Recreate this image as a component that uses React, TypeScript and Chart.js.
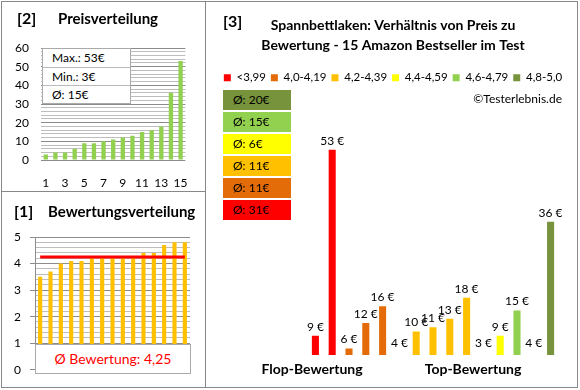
import React, { useEffect, useRef } from 'react';
import { Chart, registerables } from 'chart.js';

Chart.register(...registerables);

const FONT = 'Lato, "DejaVu Sans", sans-serif';

// ---- Panel [2]: Preisverteilung ----
const productNumbers = ['1', '2', '3', '4', '5', '6', '7', '8', '9', '10', '11', '12', '13', '14', '15'];
const sortedPrices = [3, 4, 4, 6, 9, 9, 10, 11, 12, 13, 15, 16, 18, 36, 53];
const priceStats = ['Max.: 53€', 'Min.: 3€', 'Ø: 15€'];

// ---- Panel [1]: Bewertungsverteilung ----
const sortedRatings = [3.5, 3.7, 4.0, 4.1, 4.1, 4.2, 4.2, 4.2, 4.2, 4.2, 4.4, 4.4, 4.7, 4.8, 4.8];
const avgRating = 4.25;
const avgRatingText = 'Ø Bewertung: 4,25';

// ---- Panel [3]: Preis vs. Bewertung ----
const titleLines = ['Spannbettlaken: Verhältnis von Preis zu', 'Bewertung - 15 Amazon Bestseller im Test'];
const classLabels = ['<3,99', '4,0-4,19', '4,2-4,39', '4,4-4,59', '4,6-4,79', '4,8-5,0'];
const classColors = ['#FF0000', '#E36C09', '#FFC000', '#FFFF00', '#92D050', '#77933C'];
const classAvgTexts = ['Ø: 31€', 'Ø: 11€', 'Ø: 11€', 'Ø: 6€', 'Ø: 15€', 'Ø: 20€'];
const itemPrices = [9, 53, 6, 12, 16, 4, 10, 11, 13, 18, 3, 9, 15, 4, 36];
const itemClass = [0, 0, 1, 1, 1, 2, 2, 2, 2, 2, 3, 3, 4, 5, 5];
const priceAxisMin = 4.45;
const priceAxisMax = 66.3;

const MAJOR = '#8c8c8c';
const MINOR = '#bdbdbd';
const isInt = (v: number) => Math.abs(v - Math.round(v)) < 1e-6;

const priceLabelPlugin = {
  id: 'priceLabels',
  afterDatasetsDraw(chart: any) {
    const { ctx } = chart;
    const x = chart.scales.x;
    const y = chart.scales.y;
    ctx.save();
    ctx.font = `12px ${FONT}`;
    ctx.fillStyle = '#000';
    ctx.textAlign = 'center';
    ctx.textBaseline = 'middle';
    itemPrices.forEach((p, i) => {
      const below = p < y.min;
      const py = y.getPixelForValue(below ? y.min : p);
      ctx.fillText(`${p} €`, x.getPixelForValue(i), py - (below ? 12 : 9));
    });
    ctx.restore();
  },
};

type TxtProps = { x: number; y: number; text: string; size: number; bold?: boolean; color?: string; align?: 'left' | 'center' | 'right' };
function Txt({ x, y, text, size, bold, color, align = 'left' }: TxtProps) {
  const tx = align === 'center' ? '-50%' : align === 'right' ? '-100%' : '0';
  return (
    <div
      style={{
        position: 'absolute', left: x, top: y, transform: `translate(${tx}, -50%)`,
        whiteSpace: 'nowrap', fontFamily: FONT, fontSize: size, fontWeight: bold ? 700 : 400,
        color: color || '#000', lineHeight: 1,
      }}
    >
      {text}
    </div>
  );
}

export default function App() {
  const c1 = useRef<HTMLCanvasElement>(null);
  const c2 = useRef<HTMLCanvasElement>(null);
  const c3 = useRef<HTMLCanvasElement>(null);

  useEffect(() => {
    const tickFont = { family: FONT, size: 12 };
    const ch1 = new Chart(c1.current!, {
      type: 'bar',
      data: {
        labels: productNumbers,
        datasets: [{ data: sortedPrices, backgroundColor: '#92D050', borderWidth: 0, barPercentage: 0.45, categoryPercentage: 1 }],
      },
      options: {
        animation: false, responsive: false, maintainAspectRatio: false,
        layout: { padding: { top: 46, right: 14, bottom: 0, left: 0 } },
        plugins: { legend: { display: false }, tooltip: { enabled: false } },
        scales: {
          x: {
            grid: { display: false, drawTicks: false }, border: { display: false },
            ticks: {
              padding: 16, maxRotation: 0, autoSkip: false, font: tickFont, color: '#000',
              callback: (_v: any, i: number) => (i % 2 === 0 ? productNumbers[i] : ''),
            },
            afterFit: (s: any) => { s.height = 30; },
          },
          y: {
            min: 0, max: 60,
            ticks: { stepSize: 2, autoSkip: false, padding: 12, font: tickFont, color: '#000', callback: (v: any) => (v % 10 === 0 ? String(v) : '') },
            grid: { drawTicks: false, color: (ctx: any) => (ctx.tick && ctx.tick.value % 10 === 0 ? MAJOR : MINOR) },
            border: { display: false },
            afterFit: (s: any) => { s.width = 39; },
          },
        },
      } as any,
    });

    const ch2 = new Chart(c2.current!, {
      type: 'bar',
      data: {
        labels: productNumbers,
        datasets: [
          { type: 'line', data: sortedRatings.map(() => avgRating), borderColor: '#FF0000', borderWidth: 3, pointRadius: 0, order: 0 } as any,
          { type: 'bar', data: sortedRatings, backgroundColor: '#FFC000', borderWidth: 0, barPercentage: 0.4, categoryPercentage: 1, order: 1 },
        ],
      },
      options: {
        animation: false, responsive: false, maintainAspectRatio: false,
        layout: { padding: { top: 44, right: 14, bottom: 13, left: 0 } },
        plugins: { legend: { display: false }, tooltip: { enabled: false } },
        scales: {
          x: { display: false },
          y: {
            min: 0, max: 5,
            ticks: { stepSize: 0.2, autoSkip: false, padding: 9, font: tickFont, color: '#000', callback: (v: any) => (isInt(v) ? String(Math.round(v)) : '') },
            grid: {
              tickLength: 5,
              color: (ctx: any) => (ctx.tick && isInt(ctx.tick.value) ? MAJOR : MINOR),
              tickColor: (ctx: any) => (ctx.tick && isInt(ctx.tick.value) ? MAJOR : 'rgba(0,0,0,0)'),
            },
            border: { display: true, color: MAJOR },
            afterFit: (s: any) => { s.width = 33; },
          },
        },
      } as any,
    });

    const ch3 = new Chart(c3.current!, {
      type: 'bar',
      data: {
        labels: productNumbers,
        datasets: classLabels.map((lab, g) => ({
          label: lab,
          data: itemPrices.map((p, i) => (itemClass[i] === g ? p : null)),
          backgroundColor: classColors[g],
          borderWidth: 0,
          barPercentage: 0.42,
          categoryPercentage: 1,
        })),
      },
      options: {
        animation: false, responsive: false, maintainAspectRatio: false,
        layout: { padding: { top: 0, right: 0, bottom: 31, left: 0 } },
        plugins: {
          tooltip: { enabled: false },
          title: {
            display: true, text: titleLines, color: '#000',
            font: { family: FONT, size: 14, weight: 'bold', lineHeight: 1.43 },
            padding: { top: 13, bottom: 12 },
          },
          legend: {
            display: true, position: 'top',
            labels: { boxWidth: 7, boxHeight: 7, padding: 5, color: '#000', font: { family: FONT, size: 11.5 } },
          },
        },
        scales: {
          x: { display: false, stacked: true },
          y: {
            stacked: true, min: priceAxisMin, max: priceAxisMax,
            ticks: { display: false }, grid: { display: false }, border: { display: false },
            afterFit: (s: any) => { s.width = 101; },
          },
          y2: {
            position: 'right', min: 0, max: 1,
            ticks: { display: false }, grid: { display: false }, border: { display: false },
            afterFit: (s: any) => { s.width = 21; },
          },
        },
      } as any,
      plugins: [priceLabelPlugin],
    });

    return () => { ch1.destroy(); ch2.destroy(); ch3.destroy(); };
  }, []);

  const boxOrder = [5, 4, 3, 2, 1, 0];

  return (
    <div style={{ position: 'absolute', left: 0, top: 0, width: 580, height: 390, background: '#fff', overflow: 'hidden', fontFamily: FONT }}>
      <canvas ref={c1} width={202} height={188} style={{ position: 'absolute', left: 2, top: 2 }} />
      <canvas ref={c2} width={202} height={193} style={{ position: 'absolute', left: 2, top: 193 }} />
      <canvas ref={c3} width={374} height={384} style={{ position: 'absolute', left: 206, top: 2 }} />

      {/* frames */}
      <div style={{ position: 'absolute', left: 1, top: 1, width: 575, height: 385, border: '1px solid #888' }} />
      <div style={{ position: 'absolute', left: 205, top: 1, width: 1, height: 386, background: '#888' }} />
      <div style={{ position: 'absolute', left: 1, top: 191, width: 205, height: 1, background: '#888' }} />

      {/* Panel [2] texts */}
      <Txt x={17} y={18} text="[2]" size={16} bold />
      <Txt x={58} y={18} text="Preisverteilung" size={15} bold />
      <div style={{ position: 'absolute', left: 42, top: 48, width: 87, height: 54, border: '1px solid #aaa', background: '#fff' }}>
        {priceStats.map((s, i) => (
          <div key={s} style={{
            height: 18, boxSizing: 'border-box', borderTop: i > 0 ? '1px solid #bbb' : 'none',
            paddingLeft: 9, fontSize: 12, lineHeight: '18px', color: '#000', whiteSpace: 'nowrap',
          }}>{s}</div>
        ))}
      </div>

      {/* Panel [1] texts */}
      <Txt x={14} y={211} text="[1]" size={16} bold />
      <Txt x={48} y={211} text="Bewertungsverteilung" size={15} bold />
      <div style={{
        position: 'absolute', left: 35, top: 344, width: 154, height: 28, border: '1px solid #aaa', background: '#fff',
        color: '#FF0000', fontSize: 14, lineHeight: '28px', textAlign: 'center', whiteSpace: 'nowrap',
      }}>{avgRatingText}</div>

      {/* Panel [3] texts */}
      <Txt x={223} y={21} text="[3]" size={16} bold />
      <Txt x={562} y={99} text="©Testerlebnis.de" size={12} align="right" />
      {boxOrder.map((g, k) => (
        <div key={g} style={{
          position: 'absolute', left: 223, top: 90 + k * 22, width: 68, height: 20, background: classColors[g],
          fontSize: 12, lineHeight: '20px', paddingLeft: 10, boxSizing: 'border-box', color: '#000', whiteSpace: 'nowrap',
        }}>{classAvgTexts[g]}</div>
      ))}
      <Txt x={312} y={369} text="Flop-Bewertung" size={14} bold align="center" />
      <Txt x={473} y={369} text="Top-Bewertung" size={14} bold align="center" />
    </div>
  );
}
